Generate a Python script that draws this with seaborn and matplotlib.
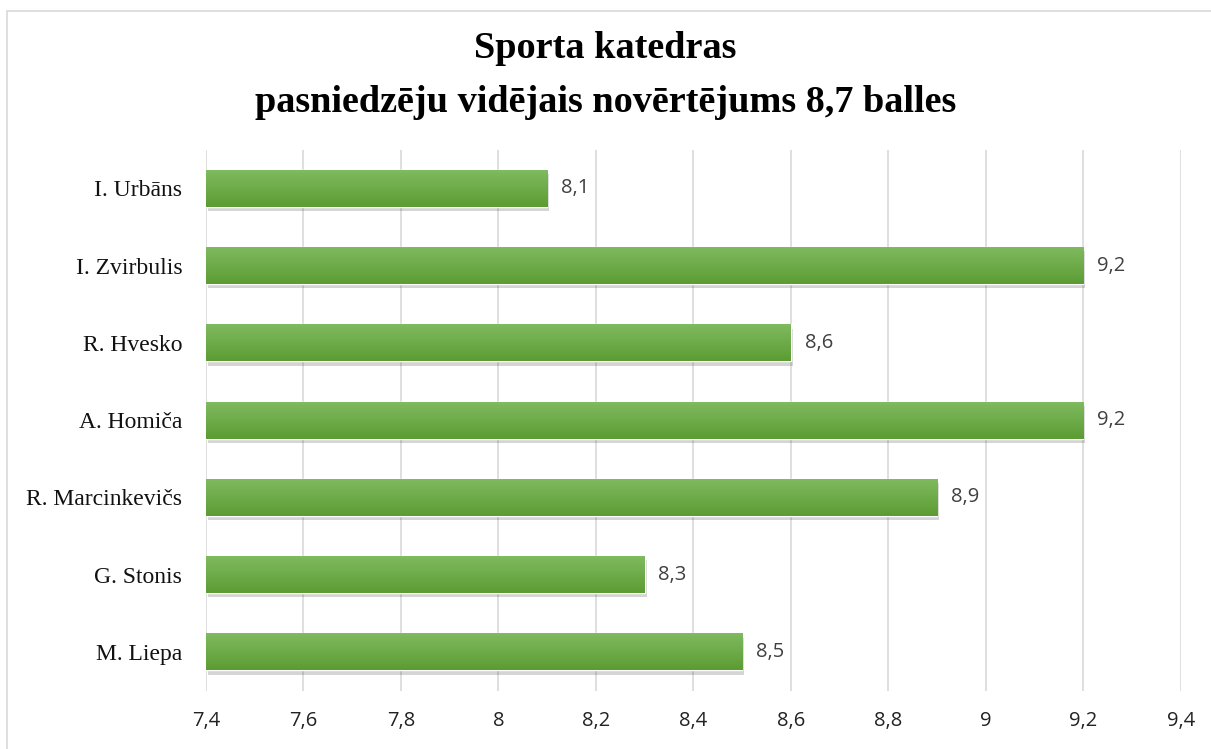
import numpy as np
import pandas as pd
import matplotlib
matplotlib.use("Agg")
import matplotlib.pyplot as plt
import matplotlib.patheffects as pe
import seaborn as sns

# data
teachers = ["I. Urbāns", "I. Zvirbulis", "R. Hvesko", "A. Homiča",
            "R. Marcinkevičs", "G. Stonis", "M. Liepa"]
scores = [8.1, 9.2, 8.6, 9.2, 8.9, 8.3, 8.5]
x_ticks = [7.4, 7.6, 7.8, 8.0, 8.2, 8.4, 8.6, 8.8, 9.0, 9.2, 9.4]
x_min = 7.4

df = pd.DataFrame({"teacher": teachers, "score": scores})

sns.set_style("white")
plt.rcParams["font.family"] = ["Liberation Serif", "DejaVu Serif"]

fig = plt.figure(figsize=(12.11, 7.49), dpi=100)
ax = fig.add_axes([0.170, 0.078, 0.805, 0.722])

sns.barplot(data=df, y="teacher", x="score", orient="h", color="#6aad3f",
            width=0.48, ax=ax)

ax.set_xticks(x_ticks)
ax.set_xticklabels([f"{t:g}".replace(".", ",") for t in x_ticks],
                   fontfamily="Open Sans", fontsize=14.5, color="#222222")
ax.tick_params(axis="x", length=0, pad=15)
ax.tick_params(axis="y", length=0, pad=17, labelsize=17)
for lab in ax.get_yticklabels():
    lab.set_color("#111111")
ax.set_xlabel("")
ax.set_ylabel("")
ax.grid(axis="x", color="#d9d9d9", linewidth=1.2)
ax.set_axisbelow(True)
sns.despine(ax=ax, left=True, bottom=True)

# bars start at the axis minimum, gradient fill + soft shadow, value labels
top_c = np.array(matplotlib.colors.to_rgb("#80bb60"))
bot_c = np.array(matplotlib.colors.to_rgb("#5c9c33"))
grad = np.linspace(0, 1, 64)[:, None, None]
img = top_c * (1 - grad) + bot_c * grad
for bar, val in zip(ax.patches, scores):
    bar.set_x(x_min)
    bar.set_width(val - x_min)
    bar.set_path_effects([pe.SimplePatchShadow(offset=(1.5, -3), alpha=0.22,
                                               shadow_rgbFace="#444444"),
                          pe.Normal()])
    x0, y0 = bar.get_x(), bar.get_y()
    w, h = bar.get_width(), bar.get_height()
    im = ax.imshow(img, extent=[x0, x0 + w, y0 + h, y0], aspect="auto",
                   zorder=bar.get_zorder() + 0.1, interpolation="bilinear")
    im.set_clip_path(bar)
    ax.annotate(f"{val:g}".replace(".", ","), (x0 + w, y0 + h / 2),
                xytext=(10, 0), textcoords="offset points", va="center",
                ha="left", fontfamily="Open Sans", fontsize=14.5,
                color="#404040")
ax.set_ylim(6.5, -0.5)
ax.set_xlim(x_ticks[0], x_ticks[-1])

fig.text(0.5, 0.899, "Sporta katedras\npasniedzēju vidējais novērtējums 8,7 balles",
         ha="center", va="center", fontsize=27.5, fontweight="bold",
         color="black", linespacing=1.72)

# light frame around the chart (left and top edges visible)
fig.patches.append(plt.Rectangle((0.006, -0.01), 1.0, 0.995,
                                 transform=fig.transFigure, fill=False,
                                 edgecolor="#d9d9d9", linewidth=1.2))

fig.savefig("out.png", dpi=100)
